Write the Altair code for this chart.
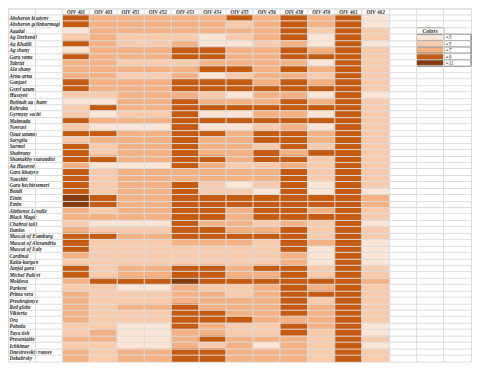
import altair as alt
import pandas as pd

varieties = [
    "Absheron khatyny", "Absheron gelinbarmagi", "Agadai", "Ag Derbendi", "Ag Khalili",
    "Ag shany", "Gara yeme", "Tabrizi", "Ala shany", " Arna-grna", "Ganjavi", "Gyzyl uzum",
    "Huseyni", "Bojinah ag shany", "Kehraba", "Gyrmyzy saabi", "Malmudu", "Novrast",
    "Oguz uzumu", "Sarygila", "Surmei", "Shahrany", "Shamakhy marandisi", "Ag Huseyni",
    "Gara khatyny", "Nagshbi", "Gara kechimemeri", "Bendi", "Elnin", "Emin",
    "Alphonse Lavalle", "Black Magic", "Chahrai taifi", "Danlas", "Muscat of Hamburg",
    "Muscat of Alexandria", "Muscat of Italy", "Cardinal", "Katta-kurgan", "Janjal gara",
    "Michel Palieri", "Moldova", "Parkent", "Prima vera", "Preobrajenye", "Red globe",
    "Viktoria", "Ora", "Pobeda", "Tuya tish", "Presentable", "Ichkimar",
    "Dnestrovskiy rozovy", "Dekabrsky",
]

traits = ["OIV 401", "OIV 403", "OIV 451", "OIV 452", "OIV 453", "OIV 454",
          "OIV 455", "OIV 456", "OIV 458", "OIV 459", "OIV 461", "OIV 462"]

oiv_401 = [9, 9, 3, 5, 9, 3, 9, 7, 7, 7, 9, 9, 5, 3, 5, 5, 9, 5, 9, 5, 9, 9, 9, 7, 9, 9, 9,
           9, 11, 11, 7, 7, 5, 7, 9, 9, 9, 7, 5, 9, 9, 7, 5, 7, 7, 7, 7, 7, 5, 5, 7, 5, 7, 7]
oiv_403 = [7, 7, 7, 7, 7, 7, 7, 7, 7, 7, 7, 7, 5, 3, 9, 3, 7, 3, 9, 7, 5, 5, 9, 3, 5, 5, 5,
           5, 9, 9, 5, 7, 3, 5, 9, 5, 5, 5, 5, 5, 5, 9, 5, 5, 5, 5, 5, 5, 5, 7, 7, 5, 5, 5]
oiv_451 = [7, 7, 7, 5, 5, 7, 7, 5, 7, 5, 7, 7, 7, 7, 7, 5, 7, 3, 7, 7, 7, 7, 7, 3, 7, 7, 7,
           7, 7, 7, 7, 7, 3, 5, 7, 5, 5, 5, 5, 7, 7, 9, 3, 5, 5, 7, 5, 5, 3, 3, 3, 3, 7, 7]
oiv_452 = [7, 7, 7, 5, 5, 7, 7, 5, 7, 5, 7, 7, 7, 7, 7, 5, 7, 3, 7, 7, 7, 7, 7, 3, 7, 7, 7,
           7, 7, 7, 7, 7, 3, 5, 7, 5, 5, 5, 5, 7, 7, 9, 3, 5, 5, 7, 5, 5, 3, 3, 3, 3, 7, 7]
oiv_453 = [7, 7, 7, 5, 7, 9, 9, 5, 7, 7, 9, 9, 7, 9, 9, 9, 9, 9, 9, 9, 9, 9, 9, 9, 7, 7, 9,
           9, 9, 9, 9, 9, 9, 9, 9, 7, 5, 5, 5, 9, 9, 11, 7, 7, 7, 9, 9, 9, 9, 7, 7, 7, 9, 9]
oiv_454 = [7, 7, 7, 3, 3, 9, 9, 7, 9, 3, 9, 9, 5, 7, 9, 3, 9, 3, 9, 7, 7, 7, 9, 7, 7, 7, 5,
           5, 9, 9, 9, 9, 7, 9, 9, 7, 5, 5, 5, 9, 9, 9, 5, 7, 7, 7, 9, 9, 7, 7, 9, 5, 9, 9]
oiv_455 = [9, 5, 7, 5, 3, 7, 7, 7, 9, 5, 9, 9, 3, 7, 9, 3, 9, 3, 7, 7, 7, 7, 7, 5, 7, 7, 3,
           5, 9, 9, 7, 7, 7, 7, 9, 7, 5, 5, 5, 7, 7, 9, 5, 5, 7, 7, 7, 9, 5, 5, 7, 7, 7, 7]
oiv_456 = [7, 7, 7, 7, 5, 7, 7, 7, 7, 7, 7, 9, 7, 7, 9, 7, 9, 5, 9, 9, 5, 9, 9, 5, 7, 7, 5,
           3, 9, 9, 9, 9, 5, 7, 9, 5, 5, 5, 5, 9, 7, 9, 7, 7, 7, 7, 7, 7, 5, 5, 7, 3, 7, 7]
oiv_458 = [9, 9, 9, 9, 7, 9, 9, 7, 9, 7, 9, 9, 7, 9, 9, 7, 9, 7, 9, 9, 9, 7, 9, 7, 9, 9, 9,
           9, 9, 9, 9, 9, 7, 9, 9, 9, 9, 7, 7, 9, 9, 9, 9, 9, 9, 9, 9, 7, 9, 9, 7, 7, 7, 7]
oiv_459 = [7, 7, 5, 3, 3, 7, 9, 3, 7, 5, 7, 9, 3, 7, 9, 3, 9, 3, 7, 7, 5, 9, 5, 5, 5, 5, 3,
           3, 9, 9, 7, 9, 5, 5, 5, 7, 3, 3, 3, 5, 5, 9, 7, 9, 5, 7, 7, 7, 7, 5, 5, 5, 5, 5]
oiv_461 = [9] * 54
oiv_462 = [3, 3, 5, 5, 3, 5, 5, 5, 5, 5, 5, 5, 3, 5, 5, 5, 5, 5, 5, 5, 5, 5, 5, 5, 5, 5, 5,
           3, 7, 7, 5, 5, 3, 5, 5, 3, 3, 3, 3, 5, 5, 7, 5, 5, 5, 5, 5, 5, 3, 3, 5, 3, 5, 5]

trait_values = [oiv_401, oiv_403, oiv_451, oiv_452, oiv_453, oiv_454,
                oiv_455, oiv_456, oiv_458, oiv_459, oiv_461, oiv_462]

levels = [3, 5, 7, 9, 11]
level_labels = ["=3", "=5", "=7", "=9", "=11"]
level_colors = ["#FBE5D6", "#F8CBAD", "#F4B183", "#C55A11", "#843C0C"]
legend_title = "Colors"

# spreadsheet layout: two label columns, 12 trait columns, three spare columns
label_cols = ["A", "B"]
blank_cols = ["P", "Q", "R"]
x_domain = label_cols + traits + blank_cols
y_domain = list(range(len(varieties) + 1))

cells = pd.DataFrame(
    [{"col": t, "row": i + 1, "value": v}
     for t, vals in zip(traits, trait_values) for i, v in enumerate(vals)]
)
headers = pd.DataFrame({"col": traits, "row": 0, "text": traits})
names = pd.DataFrame({"col": "A", "row": list(range(1, len(varieties) + 1)), "text": varieties})
legend_rows = [4, 5, 6, 7, 8]
legend = pd.DataFrame({"swatch_col": "Q", "label_col": "R", "row": legend_rows,
                       "value": levels, "text": level_labels})
legend_head = pd.DataFrame({"col": ["Q"], "row": [3], "text": [legend_title]})

xs = alt.Scale(domain=x_domain, paddingInner=0, paddingOuter=0)
ys = alt.Scale(domain=y_domain, paddingInner=0, paddingOuter=0)
cs = alt.Scale(domain=levels, range=level_colors)

grid_axis = dict(labels=False, ticks=False, domain=False, title=None, grid=True,
                 gridColor="#dcdcdc", gridWidth=1, bandPosition=0, minExtent=0, maxExtent=0)

FONT = "Liberation Serif"
FS = 5.2

heat = alt.Chart(cells).mark_rect(strokeWidth=0.6).encode(
    x=alt.X("col:N", scale=xs, axis=alt.Axis(**grid_axis)),
    y=alt.Y("row:O", scale=ys, axis=alt.Axis(**grid_axis)),
    color=alt.Color("value:O", scale=cs, legend=None),
    stroke=alt.Stroke("value:O", scale=cs, legend=None),
)

head_text = alt.Chart(headers).mark_text(
    font=FONT, fontStyle="italic", fontWeight="bold", fontSize=FS, color="#262626",
    baseline="middle",
).encode(
    x=alt.X("col:N", scale=xs),
    y=alt.Y("row:O", scale=ys),
    text="text:N",
)

name_text = alt.Chart(names).mark_text(
    font=FONT, fontStyle="italic", fontWeight="bold", fontSize=FS, color="#262626",
    align="left", baseline="middle", dx=1.5, limit=53, ellipsis="\u200b",
).encode(
    x=alt.X("col:N", scale=xs, bandPosition=0),
    y=alt.Y("row:O", scale=ys),
    text="text:N",
)

swatches = alt.Chart(legend).mark_rect(stroke="#3c3c3c", strokeWidth=0.8).encode(
    x=alt.X("swatch_col:N", scale=xs),
    y=alt.Y("row:O", scale=ys),
    color=alt.Color("value:O", scale=cs, legend=None),
)
label_boxes = alt.Chart(legend).mark_rect(fill="white", stroke="#3c3c3c", strokeWidth=0.8).encode(
    x=alt.X("label_col:N", scale=xs),
    y=alt.Y("row:O", scale=ys),
)
label_text = alt.Chart(legend).mark_text(
    font=FONT, fontStyle="italic", fontSize=FS, color="#262626",
    align="left", baseline="middle", dx=1.5,
).encode(
    x=alt.X("label_col:N", scale=xs, bandPosition=0),
    y=alt.Y("row:O", scale=ys),
    text="text:N",
)
head_box = alt.Chart(legend_head).mark_rect(fill="white", stroke="#3c3c3c", strokeWidth=0.8).encode(
    x=alt.X("col:N", scale=xs),
    y=alt.Y("row:O", scale=ys),
)
head_label = alt.Chart(legend_head).mark_text(
    font=FONT, fontStyle="italic", fontWeight="bold", fontSize=5.6, color="#262626",
    baseline="middle",
).encode(
    x=alt.X("col:N", scale=xs),
    y=alt.Y("row:O", scale=ys),
    text="text:N",
)

chart = alt.layer(
    heat, head_text, name_text, swatches, label_boxes, label_text, head_box, head_label
).properties(
    width=464, height=354, padding=0, background="white"
).configure_view(stroke="#dcdcdc", strokeWidth=1)

chart.save("out.html", embed_options={"renderer": "svg", "actions": False})
